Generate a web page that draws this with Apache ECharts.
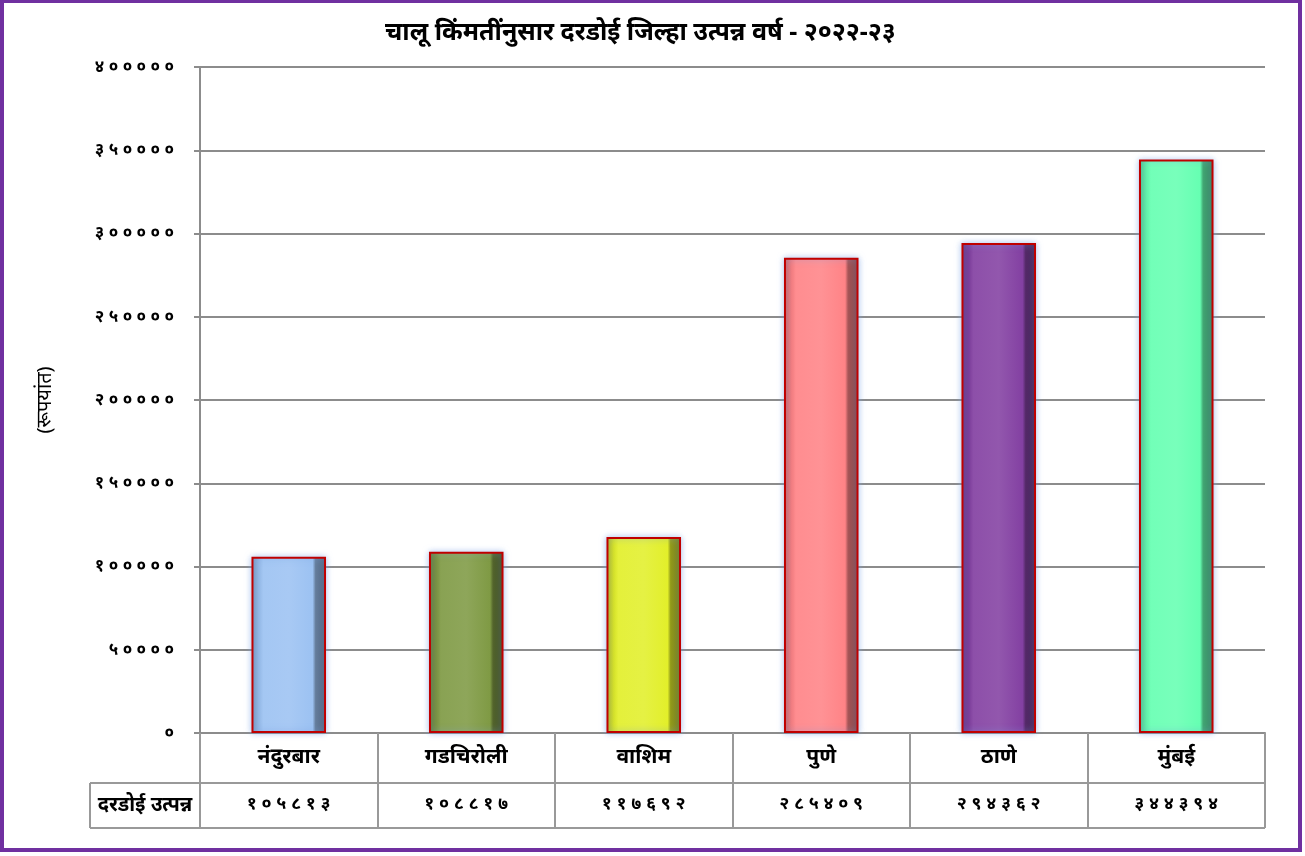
<!DOCTYPE html>
<html>
<head>
<meta charset="utf-8">
<title>दरडोई जिल्हा उत्पन्न</title>
<script src="https://cdn.jsdelivr.net/npm/echarts@6/dist/echarts.min.js"></script>
<style>
  html, body { margin: 0; padding: 0; background: #fff; }
  #chart { width: 1305px; height: 856px; }
</style>
</head>
<body>
<div id="chart"></div>
<script>
const districts = ['नंदुरबार', 'गडचिरोली', 'वाशिम', 'पुणे', 'ठाणे', 'मुंबई']
const income = [105813, 108817, 117692, 285409, 294362, 344394]
const barColors = ['#9cc2f2', '#7f9a44', '#e2ef2a', '#ff8386', '#8340a2', '#66ffb2']
const seriesName = 'दरडोई उत्पन्न'
const titleText = 'चालू किंमतींनुसार दरडोई जिल्हा उत्पन्न वर्ष - २०२२-२३'
const yName = '(रूपयांत)'

const devDigits = '०१२३४५६७८९'
const toDev = (n) => String(n).replace(/[0-9]/g, (d) => devDigits[d])
const spaced = (s) => s.split('').join(' ')

// simple shade helper for the bevel look
function shade(hex, f) {
  const n = parseInt(hex.slice(1), 16)
  let r = (n >> 16) & 255, g = (n >> 8) & 255, b = n & 255
  if (f < 0) { r *= 1 + f; g *= 1 + f; b *= 1 + f }
  else { r += (255 - r) * f; g += (255 - g) * f; b += (255 - b) * f }
  return `rgb(${Math.round(r)},${Math.round(g)},${Math.round(b)})`
}

const gridL = 200, gridR = 40, gridT = 67, gridB = 123
const W = 1305, H = 856
const axisY = H - gridB
const font = "'Noto Sans', 'DejaVu Sans', sans-serif"

const chart = echarts.init(document.getElementById('chart'))

chart.setOption({
  animation: false,
  title: {
    text: titleText,
    left: 380,
    top: 15,
    textStyle: { fontFamily: font, fontSize: 25, fontWeight: 'bold', color: '#000' },
  },
  grid: { left: gridL, right: gridR, top: gridT, bottom: gridB },
  xAxis: [
    {
      type: 'category',
      data: districts,
      axisLine: { lineStyle: { color: '#8c8c8c', width: 2 } },
      axisTick: { show: true, interval: 0, length: 95, lineStyle: { color: '#999', width: 2 } },
      axisLabel: { fontFamily: font, fontSize: 21, fontWeight: 'bold', color: '#000', margin: 14 },
    },
    {
      type: 'category',
      position: 'bottom',
      offset: 50,
      data: income.map((v) => spaced(toDev(v))),
      axisLine: { show: false },
      axisTick: { show: false },
      axisLabel: { fontFamily: font, fontSize: 18, fontWeight: 'bold', color: '#000', margin: 12 },
    },
  ],
  yAxis: {
    type: 'value',
    min: 0,
    max: 400000,
    interval: 50000,
    name: yName,
    nameLocation: 'middle',
    nameGap: 145,
    nameRotate: 90,
    nameTextStyle: { fontFamily: font, fontSize: 20, color: '#000' },
    axisLine: { show: true, lineStyle: { color: '#8c8c8c', width: 2 } },
    axisTick: { show: true, length: 6, lineStyle: { color: '#8c8c8c', width: 2 } },
    axisLabel: {
      fontFamily: font, fontSize: 17, fontWeight: 'bold', color: '#000', margin: 26,
      formatter: (v) => spaced(toDev(v)),
    },
    splitLine: { lineStyle: { color: '#8c8c8c', width: 2 } },
  },
  series: [
    {
      name: seriesName,
      type: 'bar',
      barWidth: '42%',
      data: income.map((v, i) => ({
        value: v,
        itemStyle: {
          color: new echarts.graphic.LinearGradient(0, 0, 1, 0, [
            { offset: 0, color: shade(barColors[i], -0.25) },
            { offset: 0.1, color: shade(barColors[i], -0.05) },
            { offset: 0.16, color: shade(barColors[i], 0.08) },
            { offset: 0.5, color: shade(barColors[i], 0.12) },
            { offset: 0.82, color: barColors[i] },
            { offset: 0.86, color: shade(barColors[i], -0.35) },
            { offset: 1, color: shade(barColors[i], -0.5) },
          ]),
          borderColor: '#c00000',
          borderWidth: 2,
          shadowColor: 'rgba(120,160,230,0.6)',
          shadowBlur: 6,
        },
      })),
    },
  ],
  graphic: [
    {
      type: 'rect',
      shape: { x: 2, y: 1, width: W - 7, height: H - 7 },
      style: { fill: 'none', stroke: '#7030a0', lineWidth: 4 },
    },
    {
      type: 'line',
      shape: { x1: 90, y1: axisY + 50, x2: W - gridR, y2: axisY + 50 },
      style: { stroke: '#999', lineWidth: 2 },
    },
    {
      type: 'line',
      shape: { x1: 90, y1: axisY + 95, x2: W - gridR, y2: axisY + 95 },
      style: { stroke: '#999', lineWidth: 2 },
    },
    {
      type: 'line',
      shape: { x1: 90, y1: axisY + 50, x2: 90, y2: axisY + 95 },
      style: { stroke: '#999', lineWidth: 2 },
    },
    {
      type: 'text',
      x: 145,
      y: axisY + 72,
      style: {
        text: seriesName, fontFamily: font, fontSize: 20, fontWeight: 'bold', fill: '#000',
        align: 'center', verticalAlign: 'middle',
      },
    },
  ],
})

window.addEventListener('resize', () => chart.resize())
</script>
</body>
</html>
